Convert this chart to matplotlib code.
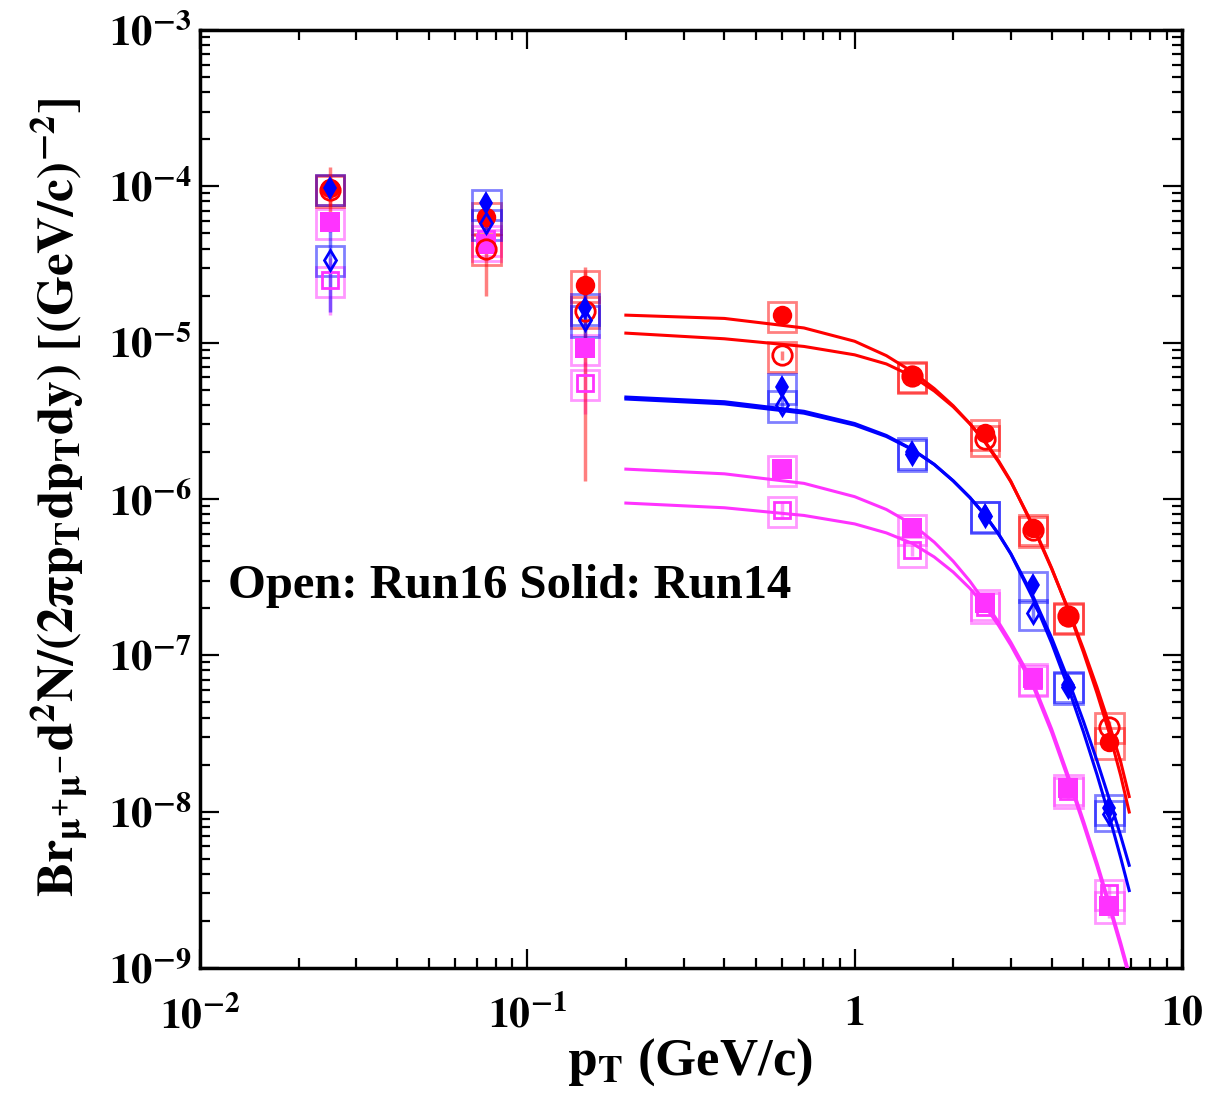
import numpy as np
import matplotlib
matplotlib.use('Agg')
import matplotlib.pyplot as plt
from matplotlib.patches import Rectangle
from matplotlib.ticker import LogLocator, FuncFormatter, NullFormatter

plt.rcParams['font.family'] = ['Liberation Serif', 'DejaVu Serif']
plt.rcParams['font.weight'] = 'bold'
plt.rcParams['mathtext.fontset'] = 'stix'

# ==========================================
# Datos
# ==========================================
pt = [0.025, 0.075, 0.15, 0.6, 1.5, 2.5, 3.5, 4.5, 6.0]

rojo_run14 = [9.75e-5, 6.4e-5, 2.34e-5, 1.50e-5, 6.2e-6, 2.64e-6, 6.5e-7, 1.75e-7, 2.8e-8]
rojo_run16 = [9.5e-5, 4.0e-5, 1.6e-5, 8.3e-6, 6.1e-6, 2.41e-6, 6.3e-7, 1.78e-7, 3.5e-8]
azul_run14 = [9.75e-5, 7.8e-5, 1.67e-5, 5.2e-6, 2.0e-6, 7.9e-7, 2.8e-7, 6.45e-8, 1.05e-8]
azul_run16 = [3.4e-5, 5.8e-5, 1.4e-5, 4.0e-6, 1.95e-6, 7.8e-7, 1.86e-7, 6.3e-8, 9.6e-9]
mag_run14 = [5.9e-5, 4.3e-5, 9.2e-6, 1.55e-6, 6.5e-7, 2.16e-7, 7.2e-8, 1.41e-8, 2.5e-9]
mag_run16 = [2.5e-5, 4.6e-5, 5.5e-6, 8.5e-7, 4.7e-7, 2.05e-7, 7.0e-8, 1.35e-8, 3.0e-9]

# errores estadisticos
err_rojo_run14 = [3.5e-5, 1.5e-5, 5e-6, 5e-7, 2e-7, 8e-8, 2.5e-8, 8e-9, 2e-9]
err_rojo_run16 = [2e-5, 2.0e-5, 1.47e-5, 6e-7, 2e-7, 8e-8, 2.5e-8, 8e-9, 3e-9]
err_azul_run14 = [1.5e-5, 1e-5, 4e-6, 6e-7, 1.5e-7, 6e-8, 2.5e-8, 8e-9, 1.5e-9]
err_azul_run16 = [1.83e-5, 1e-5, 5e-6, 5e-7, 1.5e-7, 6e-8, 2e-8, 7e-9, 1.5e-9]
err_mag_run14 = [8e-6, 6e-6, 2e-6, 1.5e-7, 5e-8, 1.5e-8, 6e-9, 1.5e-9, 4e-10]
err_mag_run16 = [1.0e-5, 6e-6, 2e-6, 1e-7, 4e-8, 1.5e-8, 6e-9, 1.5e-9, 4e-10]

# sistematico relativo (cajas)
sys_rel = 0.22

# curvas de ajuste
pt_ajuste = [0.2, 0.4, 0.7, 1.0, 1.25, 1.5, 1.75, 2.0, 2.25, 2.5,
             2.75, 3.0, 3.5, 4.0, 4.5, 5.0, 5.5, 6.0, 6.5, 6.9]
ajuste_rojo_run14 = [1.500e-5, 1.429e-5, 1.242e-5, 1.021e-5, 8.26e-6, 6.52e-6, 5.09e-6, 3.95e-6,
                     3.03e-6, 2.31e-6, 1.73e-6, 1.288e-6, 6.85e-7, 3.61e-7, 1.93e-7, 1.047e-7,
                     5.74e-8, 3.18e-8, 1.70e-8, 9.95e-9]
ajuste_rojo_run16 = [1.151e-5, 1.059e-5, 9.46e-6, 8.36e-6, 7.31e-6, 6.10e-6, 4.91e-6, 3.89e-6,
                     3.03e-6, 2.34e-6, 1.76e-6, 1.30e-6, 6.70e-7, 3.57e-7, 1.96e-7, 1.096e-7,
                     6.25e-8, 3.61e-8, 2.08e-8, 1.25e-8]
ajuste_azul_run14 = [4.49e-6, 4.19e-6, 3.64e-6, 3.04e-6, 2.55e-6, 2.08e-6, 1.667e-6, 1.309e-6,
                     1.023e-6, 7.91e-7, 6.00e-7, 4.48e-7, 2.415e-7, 1.291e-7, 6.92e-8, 3.79e-8,
                     2.12e-8, 1.202e-8, 6.98e-9, 4.54e-9]
ajuste_azul_run16 = [4.36e-6, 4.06e-6, 3.54e-6, 2.97e-6, 2.51e-6, 2.07e-6, 1.663e-6, 1.306e-6,
                     1.021e-6, 7.89e-7, 5.97e-7, 4.45e-7, 2.33e-7, 1.194e-7, 6.17e-8, 3.24e-8,
                     1.73e-8, 9.33e-9, 5.07e-9, 3.13e-9]
ajuste_mag_run14 = [1.553e-6, 1.449e-6, 1.259e-6, 1.035e-6, 8.57e-7, 6.89e-7, 5.30e-7, 4.00e-7,
                    2.98e-7, 2.19e-7, 1.633e-7, 1.213e-7, 6.76e-8, 3.37e-8, 1.683e-8, 8.75e-9,
                    4.71e-9, 2.58e-9, 1.449e-9, 9.2e-10]
ajuste_mag_run16 = [9.42e-7, 8.79e-7, 7.85e-7, 6.93e-7, 6.07e-7, 5.20e-7, 4.26e-7, 3.41e-7,
                    2.68e-7, 2.07e-7, 1.556e-7, 1.161e-7, 6.43e-8, 3.21e-8, 1.60e-8, 8.32e-9,
                    4.48e-9, 2.45e-9, 1.377e-9, 8.75e-10]

ROJO = '#ff0000'
AZUL = '#0000ff'
MAG = '#ff33ff'

series = [
    # (valores, errores, ajuste, color, marcador, tamano, relleno)
    (mag_run16, err_mag_run16, ajuste_mag_run16, MAG, 's', 12, False),
    (mag_run14, err_mag_run14, ajuste_mag_run14, MAG, 's', 14, True),
    (rojo_run16, err_rojo_run16, ajuste_rojo_run16, ROJO, 'o', 14, False),
    (rojo_run14, err_rojo_run14, ajuste_rojo_run14, ROJO, 'o', 14, True),
    (azul_run16, err_azul_run16, ajuste_azul_run16, AZUL, 'd', 10, False),
    (azul_run14, err_azul_run14, ajuste_azul_run14, AZUL, 'd', 12, True),
]

fig = plt.figure(figsize=(12.28, 11.11), dpi=100)
ax = fig.add_axes([0.1629, 0.1287, 0.7996, 0.8443])

# cajas de sistematicos
ancho = 1.105
for valores, errores, ajuste, color, marcador, tam, relleno in series:
    for xi, yi in zip(pt, valores):
        caja = Rectangle((xi / ancho, yi * (1 - sys_rel)), xi * ancho - xi / ancho, 2 * sys_rel * yi,
                         fill=False, edgecolor=color, linewidth=2.0, alpha=0.5, zorder=2)
        ax.add_patch(caja)

# barras de error estadistico
for valores, errores, ajuste, color, marcador, tam, relleno in series:
    ax.errorbar(pt, valores, yerr=errores, fmt='none', ecolor=color, elinewidth=2.5,
                alpha=0.5, capsize=0, zorder=3)

# marcadores
for valores, errores, ajuste, color, marcador, tam, relleno in series:
    ax.plot(pt, valores, linestyle='none', marker=marcador, markersize=tam,
            markerfacecolor=color if relleno else 'none', markeredgecolor=color,
            markeredgewidth=0 if relleno else 2.0, zorder=4)

# curvas de ajuste
for valores, errores, ajuste, color, marcador, tam, relleno in series:
    ax.plot(pt_ajuste, ajuste, color=color, linewidth=2.2, zorder=5)

# ==========================================
# Ejes
# ==========================================
ax.set_xscale('log')
ax.set_yscale('log')
ax.set_xlim(0.01, 10)
ax.set_ylim(1e-9, 1e-3)

ax.xaxis.set_major_locator(LogLocator(base=10, numticks=10))
ax.xaxis.set_minor_locator(LogLocator(base=10, subs=np.arange(2, 10), numticks=20))
ax.yaxis.set_major_locator(LogLocator(base=10, numticks=10))
ax.yaxis.set_minor_locator(LogLocator(base=10, subs=np.arange(2, 10), numticks=20))
ax.xaxis.set_minor_formatter(NullFormatter())
ax.yaxis.set_minor_formatter(NullFormatter())


def fmt_x(v, pos):
    e = int(round(np.log10(v)))
    if e == 0:
        return r'$\mathbf{1}$'
    if e == 1:
        return r'$\mathbf{10}$'
    return r'$\mathbf{10^{%d}}$' % e


def fmt_y(v, pos):
    e = int(round(np.log10(v)))
    return r'$\mathbf{10^{%d}}$' % e


ax.xaxis.set_major_formatter(FuncFormatter(fmt_x))
ax.yaxis.set_major_formatter(FuncFormatter(fmt_y))

ax.tick_params(which='both', direction='in', top=True, right=True, width=1.6, colors='black')
ax.tick_params(which='major', length=14)
ax.tick_params(which='minor', length=7)
ax.tick_params(axis='x', which='major', labelsize=30, pad=20)
ax.tick_params(axis='y', which='major', labelsize=31, pad=6)
for s in ax.spines.values():
    s.set_linewidth(2.5)

fig.text(60 / 1228, 1 - 497 / 1111,
         r'$\mathbf{Br_{\mu^{+}\mu^{-}}d^{2}N/(2\pi p_{T}dp_{T}dy)\ [(GeV/c)^{-2}]}$',
         rotation=90, ha='center', va='center', fontsize=37)
fig.text(690 / 1228, 1 - 1062 / 1111, r'$\mathbf{p_{T}}$ (GeV/c)',
         ha='center', va='center', fontsize=38, fontweight='bold')

ax.text(0.0285, 0.394, 'Open: Run16 Solid: Run14', transform=ax.transAxes,
        fontsize=35, fontweight='bold', ha='left', va='baseline')

fig.savefig('out.png', dpi=100)
